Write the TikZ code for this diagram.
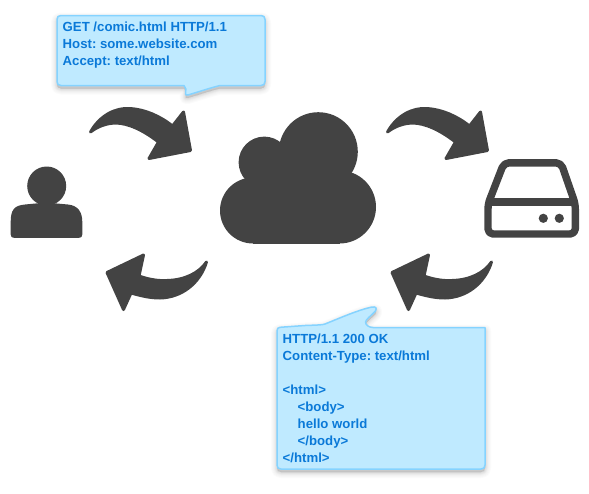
\documentclass[tikz,border=0pt]{standalone}
\usepackage{fontspec}
\setmainfont{Liberation Sans}
\frenchspacing
\definecolor{icon}{HTML}{434343}
\definecolor{bubblefill}{HTML}{BFEAFF}
\definecolor{bubbleline}{HTML}{85D3FF}
\definecolor{bubbletext}{HTML}{0A79D8}
\newcommand{\topbubble}{(61,15.5) -- (261,15.5) .. controls (263.7,15.5) and (265,16.8) .. (265,19.5) -- (265,81.5) .. controls (265,84.2) and (263.7,85.5) .. (261,85.5) -- (220,85.5) .. controls (210,88) and (198,92) .. (188,95) .. controls (186,95.5) and (185,95) .. (185.5,93) .. controls (186.5,90) and (186,88) .. (184,85.5) -- (61,85.5) .. controls (58.3,85.5) and (57,84.2) .. (57,81.5) -- (57,19.5) .. controls (57,16.8) and (58.3,15.5) .. (61,15.5) -- cycle}
\newcommand{\botbubble}{(277,331) .. controls (277,328.5) and (278,327.5) .. (280,327.3) -- (305,325.5) .. controls (318,325) and (322,325) .. (325,324) .. controls (340,318) and (358,310) .. (372,307) .. controls (376,306.5) and (377,308) .. (375.5,311) .. controls (372,315) and (366,319) .. (365.5,322) .. controls (365.5,325) and (369,327.5) .. (373,327.5) -- (485,327.5) -- (485,465) .. controls (485,467.7) and (483.7,469) .. (481,469) -- (281,469) .. controls (278.3,469) and (277,467.7) .. (277,465) -- cycle}
\tikzset{
  x=1pt,y=-1pt,
  iconfill/.style={fill=icon,draw=icon,line width=3pt,line join=round},
  bubble/.style={fill=bubblefill,draw=bubbleline,line width=1.5pt,line join=round},
  bubbleshadow/.style={draw=black,fill=black,opacity=.016,line join=round},
  bubbletxt/.style={anchor=north west,inner sep=0pt,align=left,text=bubbletext,
    font=\fontsize{13.2}{17}\selectfont\bfseries},
  overarrow/.pic={
    \path[iconfill] (90.5,132) .. controls (100,115) and (116,107.5) .. (130,108.5)
      .. controls (145,109.5) and (160,116) .. (172.5,126) -- (183.5,112) -- (190.5,150.5)
      -- (149,158.5) -- (158.5,142) .. controls (143,130) and (128,123) .. (115,123)
      .. controls (105,123.5) and (97,127) .. (90.5,132) -- cycle;
  },
  underarrow/.pic={
    \path[iconfill] (206.5,262) .. controls (200,283) and (182,297.5) .. (160,298)
      .. controls (150,298) and (142,296) .. (131,293) -- (123.5,309.5) -- (107,272.5)
      -- (143.5,255) -- (139,276) .. controls (150,280) and (160,281) .. (167,280.5)
      .. controls (185,280) and (199,273) .. (206.5,262) -- cycle;
  },
}
\begin{document}
\begin{tikzpicture}
\useasboundingbox (0,0) rectangle (589,493);
% top bubble
\foreach \w in {12,10,8,6,5,4,3,2,1}{\path[bubbleshadow,line width=\w pt,yshift=-3pt] \topbubble;}
\path[bubble] \topbubble;
\node[bubbletxt] (request) at (62.5,22) {GET /comic.html HTTP/1.1\\Host: some.website.com\\Accept: text/html};
% arrows
\pic at (0,0) {overarrow};
\pic at (297,0) {overarrow};
\pic at (0,0) {underarrow};
\pic at (285,0) {underarrow};
% person
\fill[icon] (46.7,186) circle[radius=19.5];
\path[fill=icon] (10.7,222) .. controls (10.7,210) and (14,205.5) .. (25,204.5) -- (46,202.5) -- (68,204.5)
  .. controls (78,205.5) and (82.3,212) .. (82.3,222) -- (82.3,234.5) .. controls (82.3,237) and (81,237.8) .. (79,237.8)
  -- (14,237.8) .. controls (12,237.8) and (10.7,237) .. (10.7,234.5) -- cycle;
% cloud
\fill[icon] (253,210.5) circle[radius=33];
\fill[icon] (339.5,207) circle[radius=36.5];
\fill[icon] (264.3,162.3) circle[radius=25.7];
\fill[icon] (318.3,151.7) circle[radius=39.5];
\fill[icon] (253,170) rectangle (339.5,243.5);
% server
\draw[icon,line width=7.4pt,line join=round,rounded corners=5pt] (504,162.8) -- (561,162.8) -- (575.3,204) -- (575.3,234) -- (488,234) -- (488,204) -- cycle;
\draw[icon,line width=7.4pt] (488,202) -- (575.3,202);
\fill[icon] (543.3,218.3) circle[radius=4.6];
\fill[icon] (559.3,218.3) circle[radius=4.6];
% bottom bubble
\foreach \w in {12,10,8,6,5,4,3,2,1}{\path[bubbleshadow,line width=\w pt,yshift=-3pt] \botbubble;}
\path[bubble] \botbubble;
\node[bubbletxt] (response) at (282.5,333.5) {HTTP/1.1 200 OK\\Content-Type: text/html\\[17pt]<html>\\\hspace*{15pt}<body>\\\hspace*{15pt}hello world\\\hspace*{15pt}</body>\\</html>};
\end{tikzpicture}
\end{document}
